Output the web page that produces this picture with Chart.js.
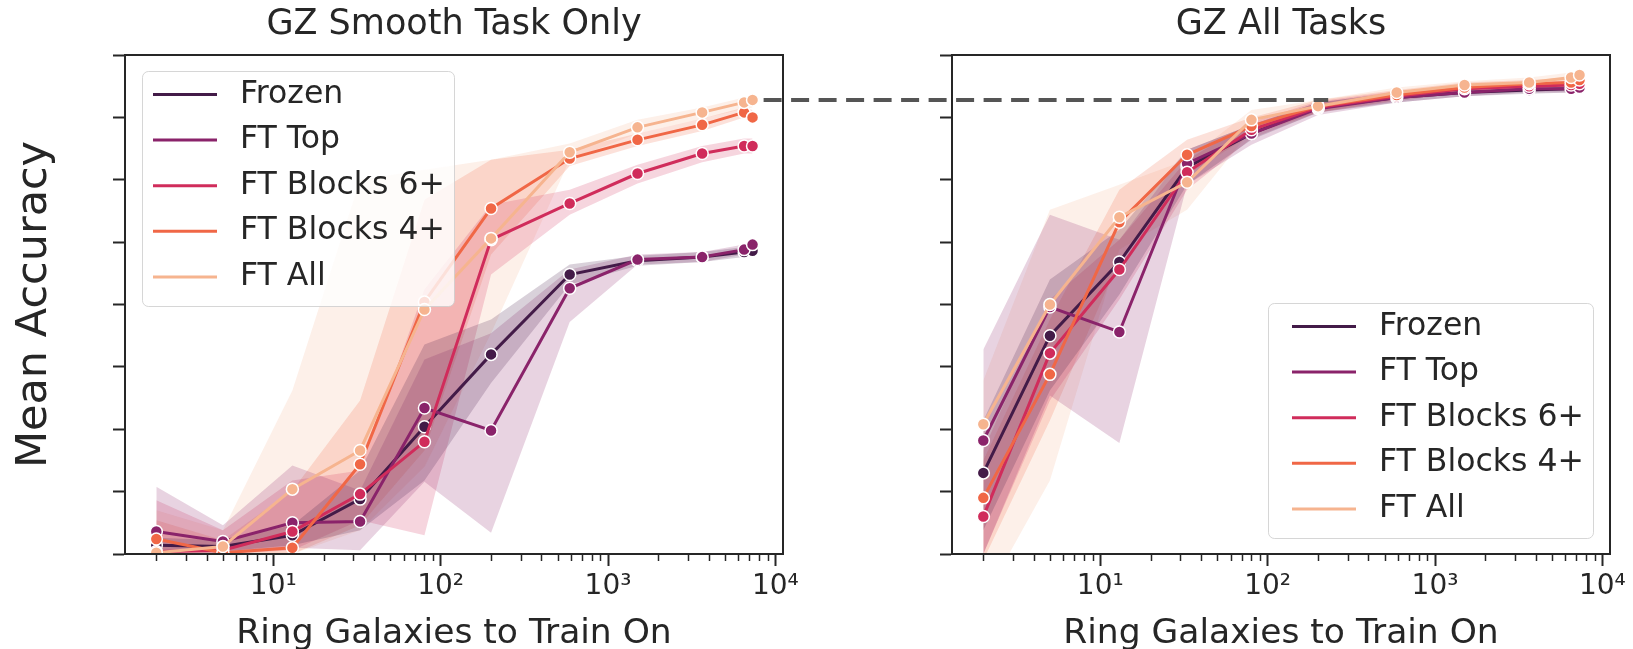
<!DOCTYPE html>
<html>
<head>
<meta charset="utf-8">
<script src="https://cdn.jsdelivr.net/npm/chart.js@4.4.0/dist/chart.umd.min.js"></script>
<style>
  html, body { margin: 0; padding: 0; background: #fff; }
  #wrap { position: relative; width: 1633px; height: 649px; }
  #wrap canvas { position: absolute; left: 0; top: 0; }
</style>
</head>
<body>
<div id="wrap">
  <canvas id="smoothCanvas" width="1633" height="649"></canvas>
  <canvas id="allCanvas" width="1633" height="649"></canvas>
</div>
<script>
// ring galaxies used for training (x axis, log)
const galaxies = [2, 5, 13, 33, 80, 200, 590, 1500, 3650, 6500, 7300];
const methods = ['Frozen', 'FT Top', 'FT Blocks 6+', 'FT Blocks 4+', 'FT All'];
const methodColors = ['#431b48', '#8a236a', '#d02c5b', '#f06746', '#f6b48f'];
const xTickLabels = { 10: '10¹', 100: '10²', 1000: '10³', 10000: '10⁴' };

// GZ Smooth Task Only - mean accuracy and band
const smoothFrozen   = [0.507, 0.506, 0.515, 0.544, 0.602, 0.660, 0.724, 0.735, 0.738, 0.742, 0.743];
const smoothFrozenLo = [0.502, 0.502, 0.507, 0.519, 0.559, 0.637, 0.716, 0.731, 0.734, 0.738, 0.739];
const smoothFrozenHi = [0.513, 0.511, 0.523, 0.567, 0.668, 0.688, 0.732, 0.739, 0.742, 0.746, 0.747];
const smoothTop   = [0.518, 0.510, 0.525, 0.526, 0.617, 0.599, 0.713, 0.736, 0.738, 0.744, 0.748];
const smoothTopLo = [0.500, 0.500, 0.505, 0.503, 0.558, 0.517, 0.686, 0.732, 0.734, 0.740, 0.744];
const smoothTopHi = [0.554, 0.523, 0.571, 0.551, 0.656, 0.677, 0.728, 0.740, 0.742, 0.748, 0.752];
const smooth6   = [0.502, 0.503, 0.518, 0.548, 0.590, 0.752, 0.781, 0.805, 0.821, 0.827, 0.827];
const smooth6Lo = [0.500, 0.500, 0.503, 0.527, 0.515, 0.724, 0.772, 0.797, 0.814, 0.821, 0.821];
const smooth6Hi = [0.543, 0.519, 0.559, 0.567, 0.712, 0.780, 0.792, 0.812, 0.827, 0.833, 0.833];
const smooth4   = [0.512, 0.501, 0.505, 0.572, 0.702, 0.777, 0.817, 0.832, 0.844, 0.854, 0.850];
const smooth4Lo = [0.500, 0.500, 0.500, 0.523, 0.583, 0.740, 0.811, 0.827, 0.839, 0.850, 0.845];
const smooth4Hi = [0.527, 0.511, 0.551, 0.623, 0.784, 0.816, 0.824, 0.837, 0.849, 0.858, 0.856];
const smoothAll   = [0.501, 0.506, 0.552, 0.583, 0.696, 0.753, 0.822, 0.842, 0.854, 0.862, 0.864];
const smoothAllLo = [0.500, 0.500, 0.500, 0.519, 0.570, 0.677, 0.816, 0.837, 0.849, 0.857, 0.858];
const smoothAllHi = [0.535, 0.519, 0.631, 0.800, 0.808, 0.816, 0.829, 0.848, 0.858, 0.866, 0.867];

// GZ All Tasks
const allFrozen   = [0.565, 0.675, 0.734, 0.810, 0.837, 0.858, 0.866, 0.870, 0.872, 0.873, 0.874];
const allFrozenLo = [0.519, 0.631, 0.708, 0.796, 0.832, 0.854, 0.862, 0.867, 0.869, 0.870, 0.870];
const allFrozenHi = [0.607, 0.720, 0.760, 0.824, 0.844, 0.862, 0.870, 0.874, 0.875, 0.876, 0.877];
const allTop   = [0.591, 0.698, 0.678, 0.813, 0.837, 0.857, 0.866, 0.870, 0.873, 0.873, 0.874];
const allTopLo = [0.500, 0.627, 0.589, 0.796, 0.828, 0.852, 0.862, 0.867, 0.870, 0.870, 0.870];
const allTopHi = [0.664, 0.772, 0.752, 0.824, 0.844, 0.862, 0.870, 0.874, 0.875, 0.876, 0.877];
const all6   = [0.530, 0.661, 0.728, 0.806, 0.840, 0.858, 0.867, 0.873, 0.875, 0.876, 0.877];
const all6Lo = [0.500, 0.623, 0.704, 0.792, 0.833, 0.854, 0.863, 0.870, 0.872, 0.873, 0.874];
const all6Hi = [0.583, 0.704, 0.752, 0.816, 0.846, 0.863, 0.871, 0.876, 0.878, 0.879, 0.880];
const all4   = [0.545, 0.644, 0.766, 0.820, 0.843, 0.859, 0.868, 0.874, 0.877, 0.878, 0.880];
const all4Lo = [0.495, 0.607, 0.736, 0.804, 0.836, 0.854, 0.864, 0.871, 0.874, 0.875, 0.877];
const all4Hi = [0.575, 0.688, 0.792, 0.832, 0.850, 0.864, 0.872, 0.878, 0.880, 0.882, 0.883];
const allAll   = [0.604, 0.700, 0.770, 0.798, 0.848, 0.859, 0.870, 0.876, 0.878, 0.882, 0.884];
const allAllLo = [0.463, 0.559, 0.744, 0.776, 0.840, 0.854, 0.866, 0.873, 0.875, 0.879, 0.881];
const allAllHi = [0.639, 0.776, 0.796, 0.816, 0.856, 0.864, 0.874, 0.879, 0.882, 0.886, 0.887];

// dashed reference: best "smooth only" accuracy, drawn from/to these galaxy counts
const refFromGalaxies = 8500;
const refToGalaxies = 230;

const ink = '#262626';
const fontFamily = 'DejaVu Sans';
Chart.defaults.font.family = fontFamily;

function withAlpha(hex, a) {
    const n = parseInt(hex.slice(1), 16);
    return `rgba(${(n >> 16) & 255}, ${(n >> 8) & 255}, ${n & 255}, ${a})`;
}

function points(values) {
    return galaxies.map((x, j) => ({ x: x, y: values[j] }));
}

function buildDatasets(means, lows, highs) {
    const sets = [];
    methods.forEach((name, i) => {
        sets.push({ data: points(lows[i]), isBand: true, borderColor: 'rgba(0,0,0,0)', borderWidth: 0,
            pointRadius: 0, fill: false, order: 10 });
        sets.push({ data: points(highs[i]), isBand: true, borderColor: 'rgba(0,0,0,0)', borderWidth: 0,
            pointRadius: 0, fill: '-1', backgroundColor: withAlpha(methodColors[i], 0.2), order: 10 });
    });
    methods.forEach((name, i) => {
        sets.push({
            label: name, data: points(means[i]),
            borderColor: methodColors[i], backgroundColor: methodColors[i],
            borderWidth: 3, pointRadius: 6, pointBorderColor: '#ffffff', pointBorderWidth: 1.5,
            fill: false, order: methods.length - 1 - i
        });
    });
    return sets;
}

// log tick positions 1..9 x 10^k
const xTickValues = [];
for (let k = 0; k <= 4; k++) {
    for (let m = 1; m <= 9; m++) xTickValues.push(m * Math.pow(10, k));
}

function xAxis() {
    return {
        type: 'logarithmic', min: 1.3, max: 11100, bounds: 'data',
        afterBuildTicks: scale => {
            scale.ticks = xTickValues.filter(v => v >= scale.min && v <= scale.max)
                .map(v => ({ value: v, major: v in xTickLabels }));
        },
        afterFit: scale => { scale.height = 95; },
        ticks: { autoSkip: false, maxRotation: 0, padding: 4, color: ink,
            font: { size: 28 }, callback: v => xTickLabels[v] || '' },
        grid: { drawOnChartArea: false, tickLength: 12, tickWidth: 2,
            tickColor: c => (c.tick && c.tick.major) ? ink : 'rgba(0,0,0,0)' },
        border: { color: ink, width: 2 },
        title: { display: true, text: 'Ring Galaxies to Train On', color: ink,
            font: { size: 34.5, lineHeight: 1.0 }, padding: { top: 0, bottom: -2 } }
    };
}

function yAxis(showTitle, width) {
    return {
        min: 0.5, max: 0.9,
        afterFit: scale => { scale.width = width; },
        ticks: { display: false, stepSize: 0.05 },
        grid: { drawOnChartArea: false, tickLength: 12, tickWidth: 2, tickColor: ink },
        border: { color: ink, width: 2 },
        title: { display: showTitle, text: 'Mean Accuracy', color: ink,
            font: { size: 43, lineHeight: 1.2 }, padding: { top: 9, bottom: 0 } }
    };
}

// frame, minor ticks and legend for each panel
const panelDecor = {
    id: 'panelDecor',
    afterDatasetsDraw(chart) {
        const { ctx, chartArea: a } = chart;
        const xs = chart.scales.x;
        ctx.save();
        ctx.strokeStyle = ink;
        ctx.lineWidth = 2;
        ctx.strokeRect(a.left, a.top, a.right - a.left, a.bottom - a.top);
        ctx.lineWidth = 1.5;
        xs.ticks.filter(t => !t.major).forEach(t => {
            const px = Math.round(xs.getPixelForValue(t.value)) + 0.5;
            ctx.beginPath();
            ctx.moveTo(px, a.bottom);
            ctx.lineTo(px, a.bottom + 7);
            ctx.stroke();
        });
        ctx.restore();
    },
    afterDraw(chart, args, opts) {
        const { ctx, chartArea: a } = chart;
        const entries = chart.data.datasets.filter(d => !d.isBand);
        const w = opts.boxWidth, h = 235, rowGap = 45.6;
        const bx = opts.corner === 'br' ? a.right - 17 - w : a.left + 17;
        const by = opts.corner === 'br' ? a.bottom - 16 - h : a.top + 16;
        const cx = bx + opts.inset;
        ctx.save();
        ctx.beginPath();
        ctx.roundRect(bx + 0.5, by + 0.5, w, h, 6);
        ctx.fillStyle = 'rgba(255,255,255,0.8)';
        ctx.fill();
        ctx.strokeStyle = 'rgba(204,204,204,0.8)';
        ctx.lineWidth = 1;
        ctx.stroke();
        ctx.font = `31.5px "${fontFamily}"`;
        ctx.textBaseline = 'middle';
        ctx.fillStyle = ink;
        entries.forEach((d, i) => {
            const ry = by + 23.5 + i * rowGap;
            ctx.strokeStyle = d.borderColor;
            ctx.lineWidth = 3;
            ctx.beginPath();
            ctx.moveTo(cx, ry);
            ctx.lineTo(cx + 64, ry);
            ctx.stroke();
            ctx.fillText(d.label, cx + 87, ry);
        });
        ctx.restore();
    }
};

function panelOptions(titleText, padding, showYTitle, yWidth, legendOpts) {
    return {
        responsive: false,
        animation: false,
        events: [],
        layout: { padding: padding },
        scales: { x: xAxis(), y: yAxis(showYTitle, yWidth) },
        plugins: {
            legend: { display: false },
            tooltip: { enabled: false },
            filler: { drawTime: 'beforeDatasetsDraw', propagate: false },
            title: { display: true, text: titleText, fullSize: false, color: ink,
                font: { size: 35, weight: 'normal', lineHeight: 1.2 },
                padding: { top: 4, bottom: 9 } },
            panelDecor: legendOpts
        }
    };
}

const smoothChart = new Chart(document.getElementById('smoothCanvas'), {
    type: 'line',
    data: { datasets: buildDatasets(
        [smoothFrozen, smoothTop, smooth6, smooth4, smoothAll],
        [smoothFrozenLo, smoothTopLo, smooth6Lo, smooth4Lo, smoothAllLo],
        [smoothFrozenHi, smoothTopHi, smooth6Hi, smooth4Hi, smoothAllHi]) },
    options: panelOptions('GZ Smooth Task Only', { left: 0, right: 850, top: 0, bottom: 0 }, true, 125,
        { corner: 'tl', boxWidth: 312, inset: 11 }),
    plugins: [panelDecor]
});

// dashed line linking the best smooth-only score to the all-tasks curve
const refLine = {
    id: 'refLine',
    afterDraw(chart) {
        const { ctx } = chart;
        const y = chart.scales.y.getPixelForValue(Math.max(...smoothAll));
        const x1 = smoothChart.scales.x.getPixelForValue(refFromGalaxies);
        const x2 = chart.scales.x.getPixelForValue(refToGalaxies);
        ctx.save();
        ctx.strokeStyle = '#555555';
        ctx.lineWidth = 4;
        ctx.setLineDash([18, 9.5]);
        ctx.beginPath();
        ctx.moveTo(x1, y);
        ctx.lineTo(x2, y);
        ctx.stroke();
        ctx.restore();
    }
};

const allChart = new Chart(document.getElementById('allCanvas'), {
    type: 'line',
    data: { datasets: buildDatasets(
        [allFrozen, allTop, all6, all4, allAll],
        [allFrozenLo, allTopLo, all6Lo, all4Lo, allAllLo],
        [allFrozenHi, allTopHi, all6Hi, all4Hi, allAllHi]) },
    options: panelOptions('GZ All Tasks', { left: 940, right: 23, top: 0, bottom: 0 }, false, 12,
        { corner: 'br', boxWidth: 325, inset: 24 }),
    plugins: [panelDecor, refLine]
});
</script>
</body>
</html>
